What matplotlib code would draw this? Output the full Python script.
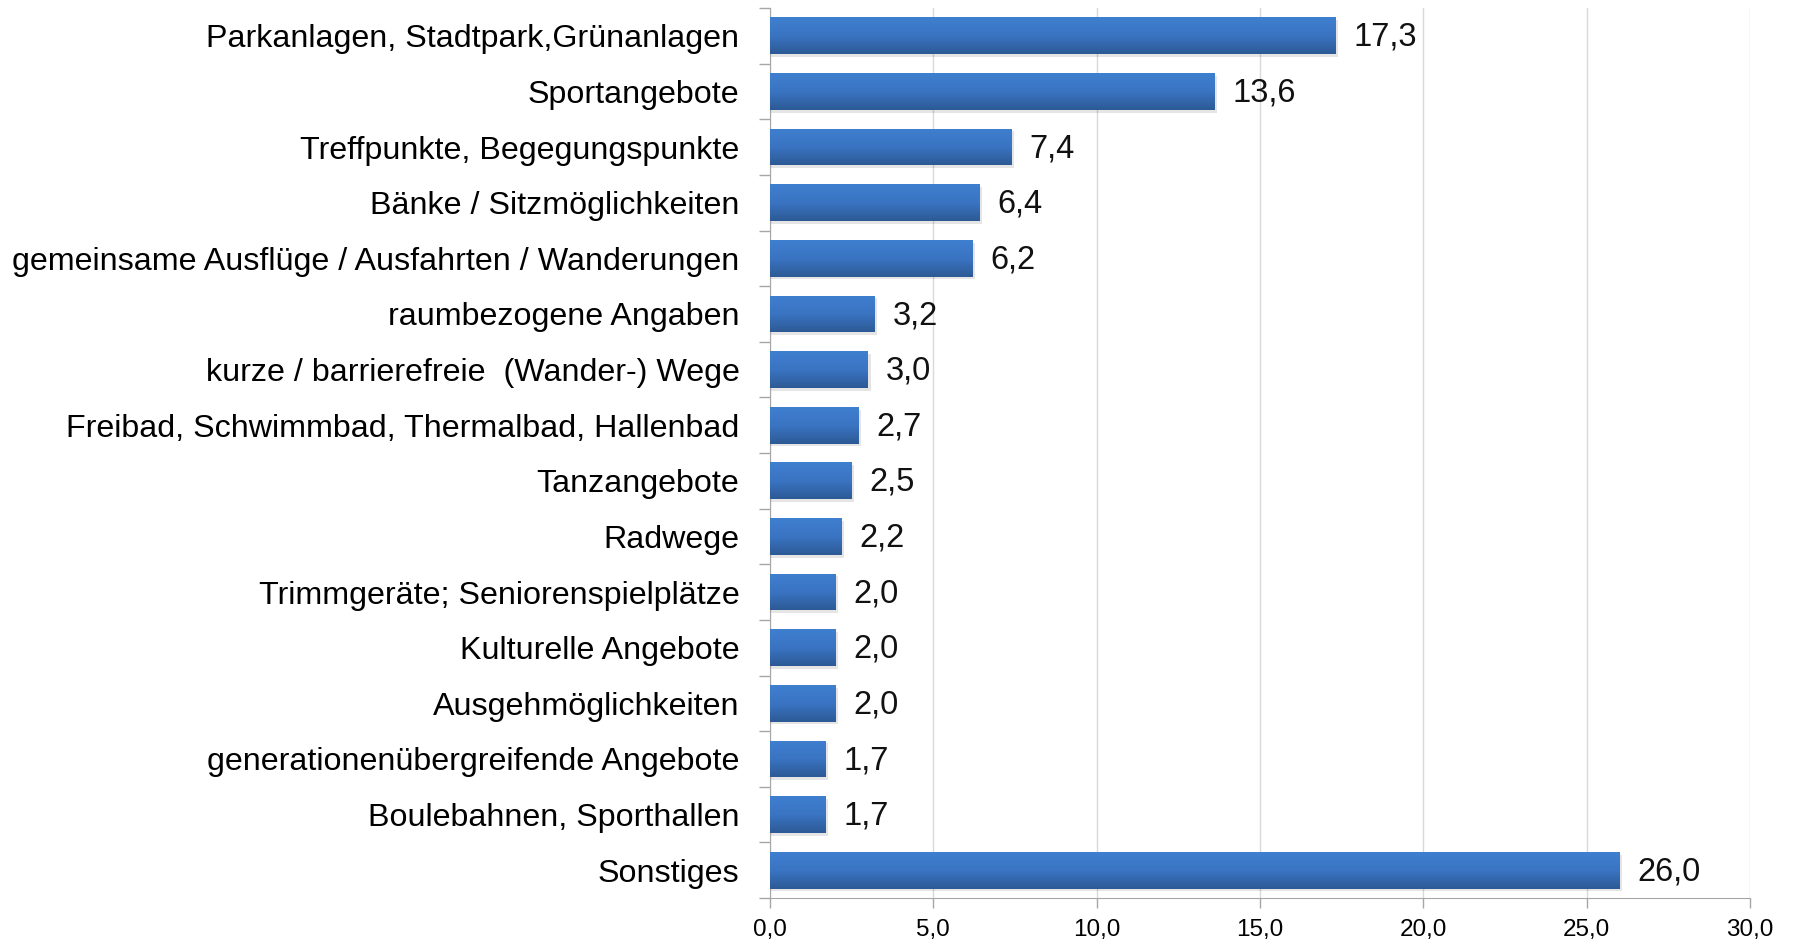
import matplotlib
matplotlib.use("Agg")
import matplotlib.pyplot as plt
import numpy as np
from matplotlib.colors import LinearSegmentedColormap
from matplotlib.patches import Rectangle

categories = [
    "Parkanlagen, Stadtpark,Grünanlagen",
    "Sportangebote",
    "Treffpunkte, Begegungspunkte",
    "Bänke / Sitzmöglichkeiten",
    "gemeinsame Ausflüge / Ausfahrten / Wanderungen",
    "raumbezogene Angaben",
    "kurze / barrierefreie  (Wander-) Wege",
    "Freibad, Schwimmbad, Thermalbad, Hallenbad",
    "Tanzangebote",
    "Radwege",
    "Trimmgeräte; Seniorenspielplätze",
    "Kulturelle Angebote",
    "Ausgehmöglichkeiten",
    "generationenübergreifende Angebote",
    "Boulebahnen, Sporthallen",
    "Sonstiges",
]
values = [17.3, 13.6, 7.4, 6.4, 6.2, 3.2, 3.0, 2.7, 2.5, 2.2, 2.0, 2.0, 2.0, 1.7, 1.7, 26.0]
xticks = [0, 5, 10, 15, 20, 25, 30]

plt.rcParams["font.family"] = ["Liberation Sans", "DejaVu Sans"]

fig = plt.figure(figsize=(17.94, 9.43), dpi=100)
ax = fig.add_axes([770 / 1794, 1 - 898 / 943, (1750 - 770) / 1794, (898 - 8) / 943])

n = len(categories)
y = np.arange(n)
bar_h = 0.66
bars = ax.barh(y, values, height=bar_h, color="#3a72bd", zorder=3)

grad = LinearSegmentedColormap.from_list("g", ["#2d5a96", "#3a74c2", "#3f7fcf"])
gradimg = np.linspace(0, 1, 64).reshape(-1, 1)
for b in bars:
    x0, y0 = b.get_x(), b.get_y()
    w, h = b.get_width(), b.get_height()
    # soft drop shadow under each bar
    ax.add_patch(Rectangle((x0, y0 + 0.05), w + 0.08, h, facecolor="#000000",
                           alpha=0.10, linewidth=0, zorder=2))
    im = ax.imshow(gradimg, extent=(x0, x0 + w, y0, y0 + h), aspect="auto",
                   cmap=grad, origin="upper", zorder=4, interpolation="bilinear")
    im.set_clip_path(b)
    b.set_facecolor("none")

for yi, v in zip(y, values):
    ax.text(v + 0.55, yi + 0.03, f"{v:.1f}".replace(".", ","), va="center", ha="left",
            fontsize=23.5, color="#111111", zorder=6)

ax.set_xlim(0, 30)
ax.set_ylim(n - 0.5, -0.5)
ax.set_xticks(xticks)
ax.set_xticklabels([f"{t:.1f}".replace(".", ",") for t in xticks], fontsize=17.5)
ax.set_yticks(y)
ax.set_yticklabels(categories, fontsize=23.2)
ax.tick_params(axis="y", length=0, pad=22)
ax.set_yticks(np.arange(-0.5, n, 1), minor=True)
ax.tick_params(axis="y", which="minor", length=8, color="#a6a6a6", width=1)
ax.tick_params(axis="x", length=7, color="#a6a6a6", width=1, pad=8)

ax.grid(axis="x", color="#d9d9d9", linewidth=1, zorder=0)
ax.set_axisbelow(True)
for s in ["top", "right"]:
    ax.spines[s].set_visible(False)
ax.spines["left"].set_color("#a6a6a6")
ax.spines["bottom"].set_color("#a6a6a6")

fig.savefig("out.png", dpi=100, facecolor="white")
